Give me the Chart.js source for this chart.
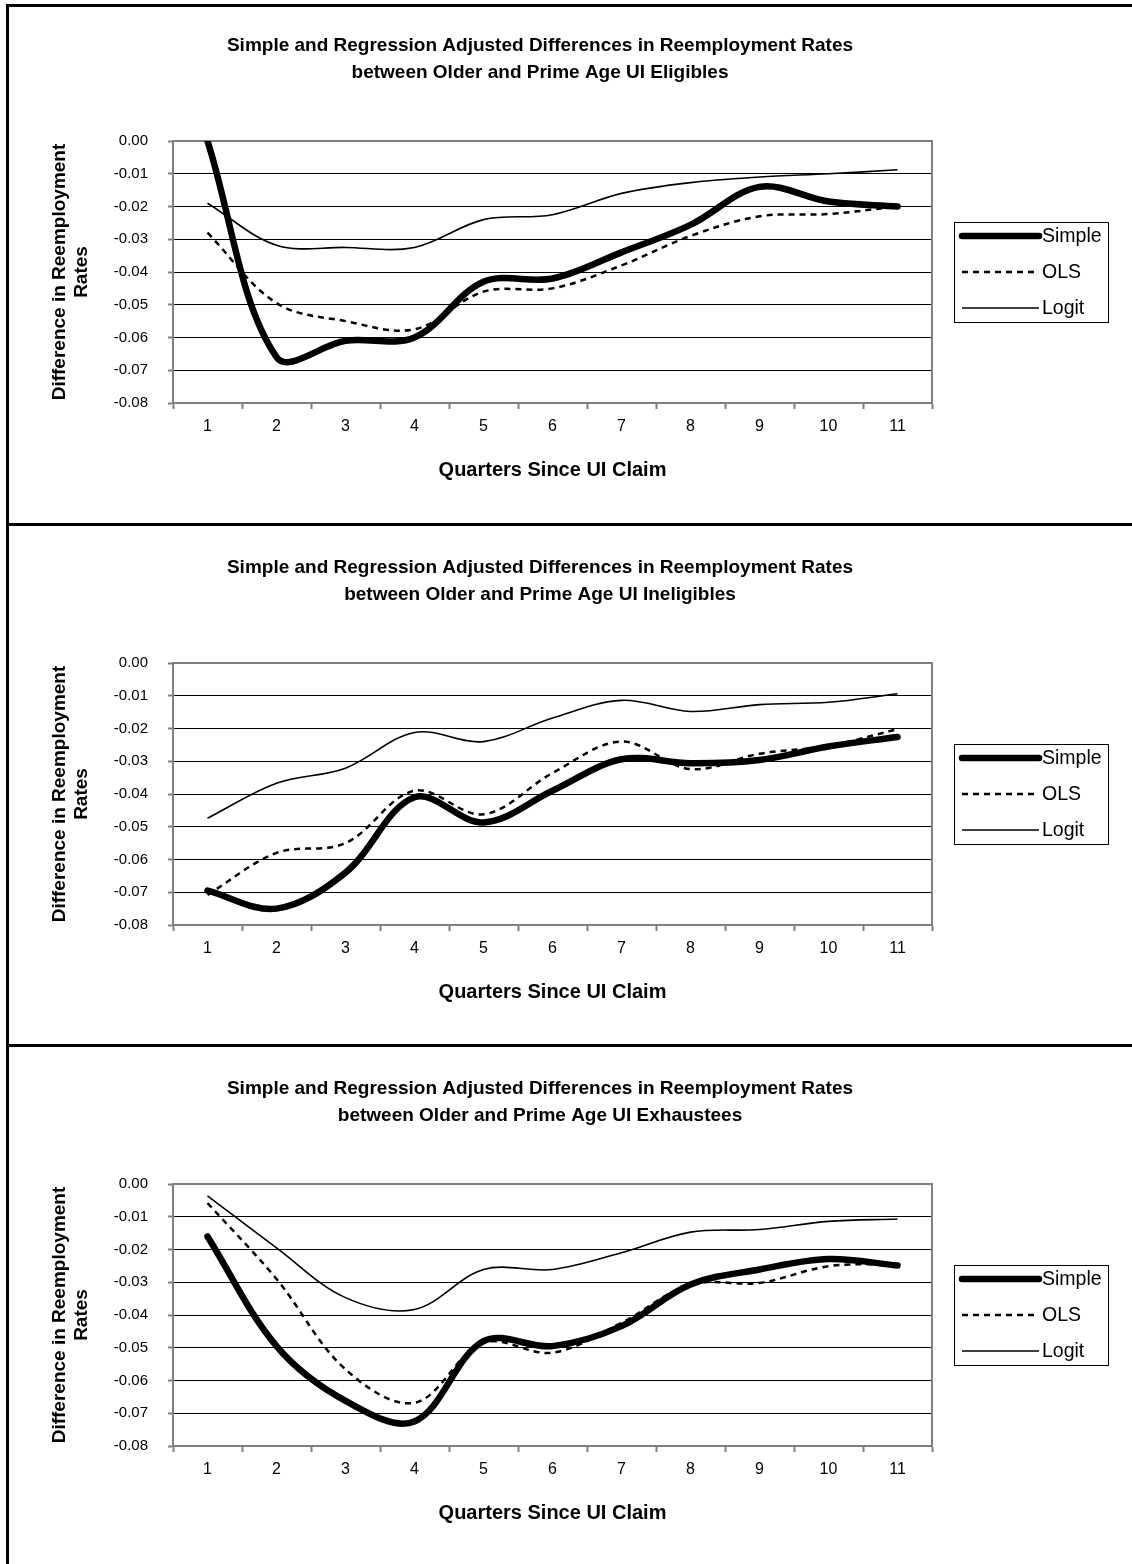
<!DOCTYPE html>
<html>
<head>
<meta charset="utf-8">
<script src="https://cdn.jsdelivr.net/npm/chart.js@4.4.1/dist/chart.umd.min.js"></script>
<style>
  html, body { margin: 0; padding: 0; background: #fff; width: 1132px; height: 1564px; overflow: hidden; position: relative; }
  .panel { position: absolute; left: -30px; width: 1140px; height: 516px; }
  .rule { position: absolute; background: #000; }
</style>
</head>
<body>
<div class="panel" style="top:7px"><canvas id="eligibles" width="1140" height="516"></canvas></div>
<div class="panel" style="top:529px"><canvas id="ineligibles" width="1140" height="516"></canvas></div>
<div class="panel" style="top:1050px"><canvas id="exhaustees" width="1140" height="516"></canvas></div>

<div class="rule" style="left:6px;top:4px;width:1126px;height:3px"></div>
<div class="rule" style="left:6px;top:4px;width:3px;height:1560px"></div>
<div class="rule" style="left:6px;top:523px;width:1126px;height:3px"></div>
<div class="rule" style="left:6px;top:1044px;width:1126px;height:3px"></div>

<script>
const quarters = ['1', '2', '3', '4', '5', '6', '7', '8', '9', '10', '11'];

const eligSimple = [0.000, -0.066, -0.061, -0.060, -0.043, -0.042, -0.034, -0.0256, -0.014, -0.0185, -0.020];
const eligOLS    = [-0.028, -0.0495, -0.055, -0.0575, -0.046, -0.045, -0.038, -0.029, -0.023, -0.0223, -0.020];
const eligLogit  = [-0.019, -0.0318, -0.0325, -0.0325, -0.024, -0.0225, -0.016, -0.0127, -0.011, -0.010, -0.0088];

const inelSimple = [-0.0695, -0.075, -0.064, -0.041, -0.0487, -0.039, -0.0294, -0.0306, -0.0296, -0.0255, -0.0226];
const inelOLS    = [-0.0708, -0.058, -0.055, -0.039, -0.0462, -0.0336, -0.024, -0.0324, -0.0277, -0.0253, -0.0202];
const inelLogit  = [-0.0474, -0.0367, -0.0321, -0.0212, -0.024, -0.0168, -0.0114, -0.0148, -0.0127, -0.012, -0.0094];

const exhSimple = [-0.016, -0.0495, -0.0662, -0.0725, -0.048, -0.0495, -0.0434, -0.0307, -0.0261, -0.0229, -0.0249];
const exhOLS    = [-0.0058, -0.029, -0.0566, -0.0668, -0.0485, -0.0515, -0.0424, -0.0307, -0.0302, -0.0251, -0.0245];
const exhLogit  = [-0.0036, -0.0195, -0.0347, -0.0383, -0.0261, -0.0261, -0.021, -0.0147, -0.0139, -0.0114, -0.0107];

const titleLine1 = 'Simple and Regression Adjusted Differences in Reemployment Rates';

Chart.defaults.font.family = '"Liberation Sans", Arial, sans-serif';
Chart.defaults.color = '#000';

// grey box round the plot area
const plotFrame = {
  id: 'plotFrame',
  beforeDatasetsDraw(chart) {
    const { ctx, chartArea: a } = chart;
    ctx.save();
    ctx.strokeStyle = '#808080';
    ctx.lineWidth = 2;
    ctx.strokeRect(a.left, a.top, a.right - a.left, a.bottom - a.top);
    ctx.restore();
  }
};

// Excel style legend in a thin box to the right of the plot
const boxedLegend = {
  id: 'boxedLegend',
  afterDraw(chart) {
    const { ctx, chartArea: a } = chart;
    const w = 154, h = 100;
    const x = a.right + 22;
    const y = Math.round((a.top + a.bottom) / 2 - h / 2);
    ctx.save();
    ctx.fillStyle = '#fff';
    ctx.fillRect(x, y, w, h);
    ctx.strokeStyle = '#000';
    ctx.lineWidth = 1;
    ctx.strokeRect(x + 0.5, y + 0.5, w, h);
    ctx.font = '19.5px "Liberation Sans", Arial, sans-serif';
    ctx.textBaseline = 'middle';
    ctx.fillStyle = '#000';
    chart.data.datasets.forEach((ds, i) => {
      const ly = y + 14 + i * 36;
      ctx.lineWidth = ds.borderWidth;
      ctx.lineCap = ds.borderCapStyle || 'butt';
      ctx.setLineDash(ds.borderDash || []);
      ctx.beginPath();
      ctx.moveTo(x + 8, ly);
      ctx.lineTo(x + 85, ly);
      ctx.stroke();
      ctx.setLineDash([]);
      ctx.fillText(ds.label, x + 88, ly + 1);
    });
    ctx.restore();
  }
};

function makeChart(id, group, simple, ols, logit) {
  return new Chart(document.getElementById(id), {
    type: 'line',
    data: {
      labels: quarters,
      datasets: [
        { label: 'Simple', data: simple, borderColor: '#000', borderWidth: 6.5, borderCapStyle: 'round', borderJoinStyle: 'round' },
        { label: 'OLS', data: ols, borderColor: '#000', borderWidth: 2.5, borderDash: [6, 5] },
        { label: 'Logit', data: logit, borderColor: '#000', borderWidth: 1.6 }
      ]
    },
    options: {
      responsive: false,
      animation: false,
      elements: { point: { radius: 0 }, line: { tension: 0.35, fill: false } },
      layout: { padding: 0 },
      plugins: {
        legend: { display: false },
        tooltip: { enabled: false },
        title: {
          display: true,
          text: [titleLine1, 'between Older and Prime Age UI ' + group],
          font: { size: 19, weight: 'bold', lineHeight: 27 / 19 },
          color: '#000',
          padding: { top: 25.5, bottom: 54.5 }
        }
      },
      scales: {
        x: {
          offset: true,
          grid: { offset: true, drawOnChartArea: false, drawTicks: true, tickLength: 6, tickColor: '#808080', tickWidth: 2 },
          border: { color: '#808080', width: 2 },
          ticks: { font: { size: 16 }, padding: 8, maxRotation: 0, color: '#000' },
          title: { display: true, text: 'Quarters Since UI Claim', font: { size: 20, weight: 'bold', lineHeight: 1.2 }, color: '#000', padding: { top: 0, bottom: 41 } },
          afterFit(s) { s.height = 120; }
        },
        y: {
          min: -0.08,
          max: 0,
          ticks: { stepSize: 0.01, callback: v => v.toFixed(2), font: { size: 15 }, padding: 20, color: '#000' },
          grid: { color: '#000', lineWidth: 1, tickLength: 5, tickColor: '#808080', tickWidth: 2 },
          border: { color: '#808080', width: 2 },
          title: { display: true, text: ['Difference in Reemployment', 'Rates'], font: { size: 19, weight: 'bold', lineHeight: 22 / 19 }, color: '#000', padding: { top: 79, bottom: 0 } },
          afterFit(s) { s.width = 203; }
        },
        // empty right-hand axis that only reserves the room the legend box sits in
        legendRoom: {
          type: 'linear',
          position: 'right',
          display: true,
          grid: { display: false, drawTicks: false },
          border: { display: false },
          ticks: { display: false },
          afterFit(s) { s.width = 178; }
        }
      }
    },
    plugins: [plotFrame, boxedLegend]
  });
}

makeChart('eligibles', 'Eligibles', eligSimple, eligOLS, eligLogit);
makeChart('ineligibles', 'Ineligibles', inelSimple, inelOLS, inelLogit);
makeChart('exhaustees', 'Exhaustees', exhSimple, exhOLS, exhLogit);
</script>
</body>
</html>
